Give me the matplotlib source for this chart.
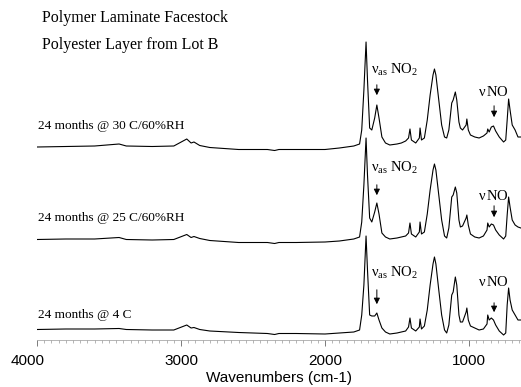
import matplotlib
matplotlib.use("Agg")
import matplotlib.pyplot as plt
from matplotlib.ticker import MultipleLocator

wavenumbers = [4000, 3800, 3600, 3430, 3380, 3200, 3050, 2960, 2930, 2910,
               2870, 2800, 2600, 2400, 2350, 2320, 2200, 2000, 1900, 1800,
               1760, 1745, 1730, 1715, 1705, 1690, 1675, 1655, 1640, 1625,
               1605, 1580, 1550, 1500, 1470, 1440, 1420, 1410, 1400, 1370,
               1345, 1340, 1330, 1310, 1290, 1270, 1250, 1240, 1230, 1210,
               1190, 1170, 1155, 1140, 1120, 1110, 1095, 1085, 1070, 1060,
               1045, 1020, 1015, 1005, 990, 960, 930, 900, 875, 870,
               860, 845, 830, 815, 790, 760, 745, 735, 725, 715,
               700, 680, 660, 640]

abs_30C = [0.00, 0.005, 0.01, 0.03, 0.01, 0.005, 0.01, 0.08, 0.04, 0.05,
           0.015, -0.005, -0.025, -0.025, -0.035, -0.025, -0.025, -0.025, -0.01, 0.01,
           0.03, 0.17, 0.57, 1.05, 0.67, 0.19, 0.17, 0.29, 0.42, 0.29,
           0.10, 0.04, 0.02, 0.03, 0.04, 0.06, 0.09, 0.18, 0.07, 0.04,
           0.09, 0.19, 0.07, 0.09, 0.27, 0.52, 0.72, 0.78, 0.72, 0.47,
           0.22, 0.10, 0.09, 0.17, 0.44, 0.47, 0.55, 0.47, 0.25, 0.19,
           0.17, 0.22, 0.28, 0.17, 0.12, 0.10, 0.09, 0.11, 0.14, 0.18,
           0.15, 0.20, 0.21, 0.16, 0.10, 0.05, 0.07, 0.27, 0.48, 0.37,
           0.22, 0.17, 0.10, 0.10]

abs_25C = [0.005, 0.01, 0.01, 0.025, 0.005, 0.0, 0.005, 0.055, 0.025, 0.035,
           0.015, -0.005, -0.025, -0.025, -0.035, -0.025, -0.025, -0.02, -0.01, 0.01,
           0.03, 0.18, 0.55, 1.02, 0.65, 0.22, 0.18, 0.28, 0.37, 0.26,
           0.07, 0.03, 0.01, 0.02, 0.03, 0.04, 0.07, 0.17, 0.06, 0.03,
           0.08, 0.18, 0.06, 0.08, 0.26, 0.50, 0.70, 0.76, 0.70, 0.45,
           0.20, 0.04, 0.02, 0.12, 0.43, 0.45, 0.53, 0.47, 0.20, 0.13,
           0.14, 0.22, 0.25, 0.15, 0.06, 0.03, 0.02, 0.04, 0.10, 0.17,
           0.13, 0.16, 0.15, 0.10, 0.05, 0.01, 0.04, 0.25, 0.43, 0.33,
           0.20, 0.15, 0.13, 0.12]

abs_4C = [0.005, 0.01, 0.01, 0.015, 0.005, 0.0, 0.0, 0.05, 0.02, 0.025,
          0.005, -0.01, -0.025, -0.035, -0.045, -0.035, -0.035, -0.04, -0.03, -0.02,
          0.0, 0.15, 0.45, 0.94, 0.60, 0.15, 0.14, 0.14, 0.17, 0.10,
          0.02, -0.02, -0.04, -0.03, -0.02, -0.01, 0.03, 0.12, 0.02, -0.01,
          0.03, 0.11, 0.01, 0.04, 0.20, 0.45, 0.66, 0.73, 0.66, 0.40,
          0.15, 0.0, -0.03, 0.05, 0.35, 0.38, 0.53, 0.45, 0.15, 0.08,
          0.08, 0.18, 0.22, 0.10, 0.04, 0.02, 0.0, 0.01, 0.06, 0.15,
          0.10, 0.12, 0.10, 0.05, -0.01, -0.05, -0.03, 0.25, 0.42, 0.30,
          0.20, 0.15, 0.10, 0.10]

series = [abs_30C, abs_25C, abs_4C]
labels = ["24 months @ 30 C/60%RH", "24 months @ 25 C/60%RH", "24 months @ 4 C"]
offsets = [1.93, 1.00, 0.10]
label_y = [2.14, 1.22, 0.25]
no2_text_y = [2.70, 1.72, 0.67]
no2_arrow = [(2.58, 2.42), (1.58, 1.42), (0.53, 0.33)]
no_text_y = [2.48, 1.45, 0.58]
no_arrow = [(2.37, 2.20), (1.37, 1.20), (0.40, 0.25)]
tick_values = [4000, 3000, 2000, 1000]
tick_labels = ["", "3000", "2000", "1000"]

serif = 'Liberation Serif'
sans = 'Liberation Sans'
plt.rcParams['mathtext.fontset'] = 'custom'
plt.rcParams['mathtext.rm'] = serif
plt.rcParams['mathtext.it'] = serif + ':italic'
plt.rcParams['mathtext.bf'] = serif + ':bold'

fig = plt.figure(figsize=(5.21, 3.87), dpi=100)
ax = fig.add_axes([37 / 521, 47 / 387, 484 / 521, 340 / 387])

for vals, off in zip(series, offsets):
    ax.plot(wavenumbers, [v + off for v in vals], color='black', lw=0.8)

ax.set_xlim(4000, 639)
ax.set_ylim(0, 3.40)

for lab, y in zip(labels, label_y):
    ax.text(3990, y, lab, family=serif, fontsize=9.5, va='center', ha='left')

ax.text(3965, 3.22, "Polymer Laminate Facestock", family=serif, fontsize=11.5, va='center', ha='left')
ax.text(3965, 2.95, "Polyester Layer from Lot B", family=serif, fontsize=11.5, va='center', ha='left')

for ty, (a0, a1) in zip(no2_text_y, no2_arrow):
    ax.text(1680, ty, r'$\mathrm{\nu_{as}\ NO_2}$', fontsize=10.5, va='center', ha='left')
    ax.annotate('', xy=(1640, a1), xytext=(1640, a0),
                arrowprops=dict(arrowstyle='-|>', color='black', lw=0.7, mutation_scale=9))
for ty, (a0, a1) in zip(no_text_y, no_arrow):
    ax.text(940, ty, r'$\mathrm{\nu\,NO}$', fontsize=10.5, va='center', ha='left')
    ax.annotate('', xy=(826, a1), xytext=(826, a0),
                arrowprops=dict(arrowstyle='-|>', color='black', lw=0.7, mutation_scale=9))

for s in ['top', 'left', 'right']:
    ax.spines[s].set_visible(False)
ax.spines['bottom'].set_color('#999999')
ax.spines['bottom'].set_linewidth(0.5)
ax.set_yticks([])
ax.set_xticks(tick_values)
ax.set_xticklabels(tick_labels, family=sans, fontsize=11)
ax.xaxis.set_minor_locator(MultipleLocator(50))
ax.tick_params(axis='x', which='major', direction='out', length=4, width=0.6, color='#666666', pad=6)
ax.tick_params(axis='x', which='minor', direction='out', length=2.5, width=0.5, color='#999999')
# first tick label sits slightly left of its tick in the original
ax.annotate("4000", xy=(tick_values[0], 0), xycoords=('data', 'axes fraction'),
            xytext=(-7, -10), textcoords='offset points', ha='center', va='top',
            family=sans, fontsize=11, annotation_clip=False)
ax.set_xlabel("Wavenumbers (cm-1)", family=sans, fontsize=11, labelpad=2)
ax.patch.set_alpha(0)

fig.savefig("out.png", dpi=100)
